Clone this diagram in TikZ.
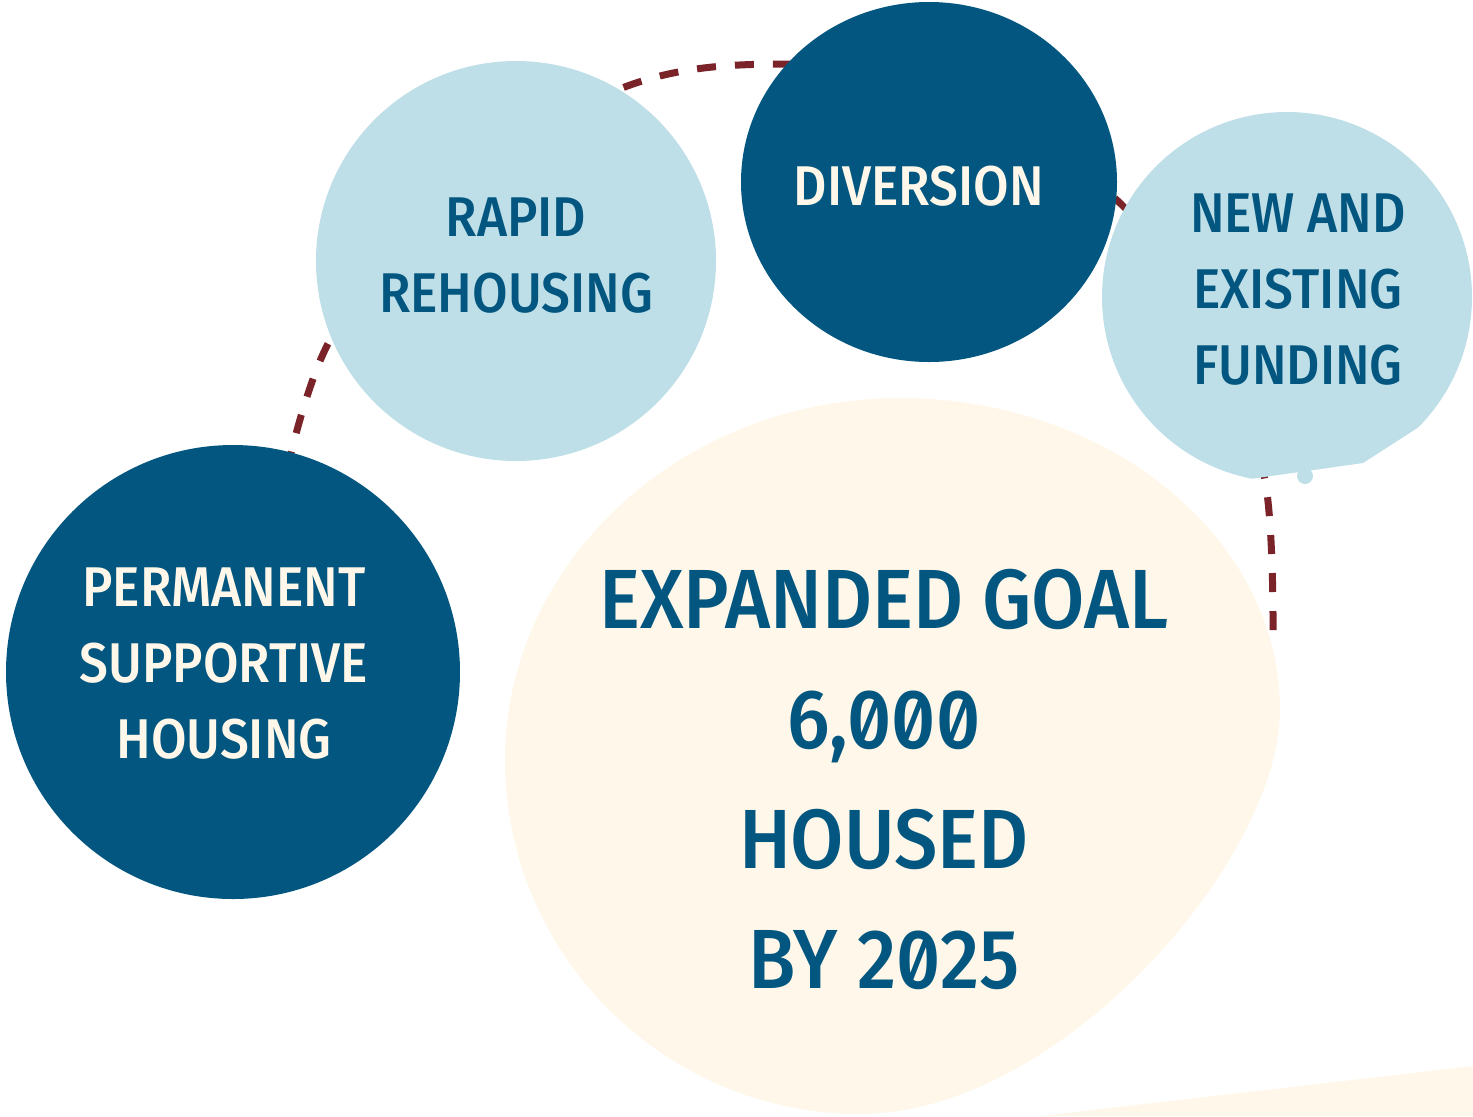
\documentclass[tikz,border=0pt]{standalone}
\usepackage{fontspec}
\setmainfont{Fira Sans Medium}[FakeStretch=0.92,Numbers=SlashedZero]
\usepackage{tikz}
\definecolor{navy}{HTML}{02567F}
\definecolor{skyblue}{HTML}{BEDFE8}
\definecolor{cream}{HTML}{FFF8EA}
\definecolor{maroon}{HTML}{7A2328}
\tikzset{
  darkdot/.style={fill=navy},
  lightdot/.style={fill=skyblue},
  dashpath/.style={draw=maroon, line width=3.5pt, dash pattern=on 9.5pt off 9.5pt},
  smalltxt/.style={align=center, font=\fontsize{28}{38}\selectfont},
  bigtxt/.style={align=center, text=navy, font=\fontsize{42}{60}\selectfont},
}

\begin{document}
\begin{tikzpicture}[x=0.5pt,y=-0.5pt]
  \useasboundingbox (0,0) rectangle (1473,1116);
  % dashed path behind the circles
  \coordinate (pathstart) at (287,470);
  \coordinate (pathend) at (1273,640);
  \draw[dashpath] plot[smooth, tension=0.6] coordinates {(pathstart) (330,340) (431,210)
    (617,90) (790,64) (960,90) (1122,205) (1218,340) (1265,480) (pathend)};
  % goal blob
  \fill[cream] (900,398) .. controls (1109,398) and (1280,538) .. (1280,710)
    .. controls (1280,860) and (1060,1114) .. (860,1114)
    .. controls (665,1114) and (505,955) .. (505,760)
    .. controls (505,561) and (683,398) .. (900,398) -- cycle;
  \fill[cream] (1040,1116) -- (1473,1066) -- (1473,1116) -- cycle;
  % circles
  \fill[darkdot] (233,672) circle[radius=227];
  \fill[lightdot] (516,261) circle[radius=200];
  \fill[darkdot] (929,182) ellipse[x radius=188, y radius=180];
  \begin{scope}
    \clip (1080,100) -- (1473,100) -- (1473,405) -- (1433,418) -- (1363,463)
      -- (1250,479) -- (1080,479) -- cycle;
    \fill[lightdot] (1287,297) circle[radius=185];
  \end{scope}
  \fill[lightdot] (1305,476) circle[radius=8];
  % labels
  \node[smalltxt, text=cream] (psh) at (224,664) {PERMANENT\\SUPPORTIVE\\HOUSING};
  \node[smalltxt, text=navy] (rapid) at (516,256) {RAPID\\REHOUSING};
  \node[smalltxt, text=cream] (diversion) at (919,186) {DIVERSION};
  \node[smalltxt, text=navy] (funding) at (1298,290) {NEW AND\\EXISTING\\FUNDING};
  \node[bigtxt] (goal) at (884,779) {EXPANDED GOAL\\6,000\\HOUSED\\BY 2025};
\end{tikzpicture}
\end{document}
